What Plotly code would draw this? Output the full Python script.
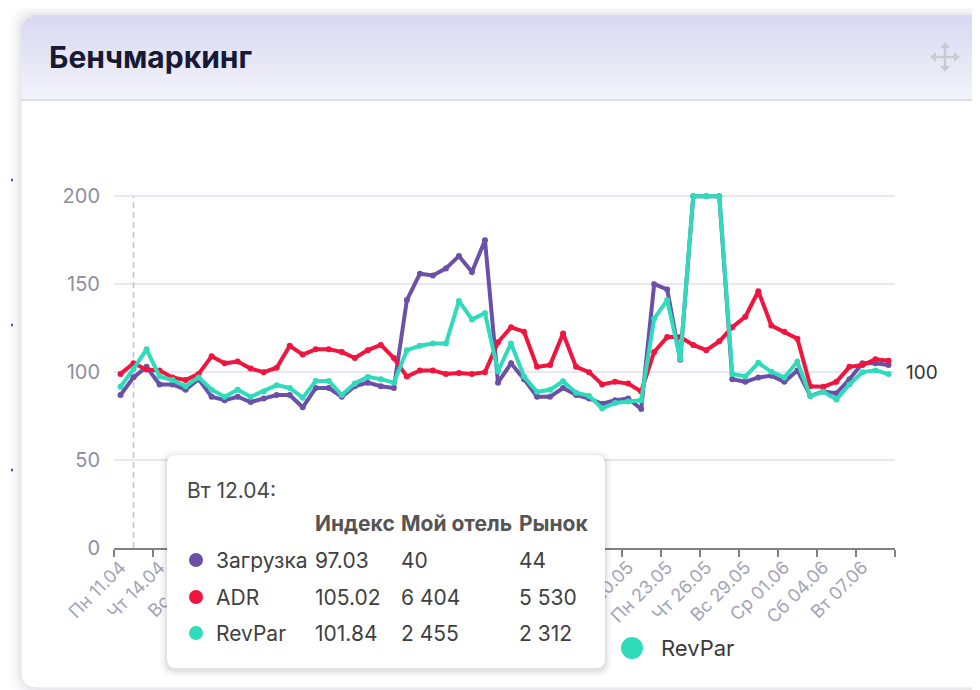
import math
import plotly.graph_objects as go

# ---------------- data ----------------
dates = ["Пн 11.04", "Вт 12.04", "Ср 13.04", "Чт 14.04", "Пт 15.04", "Сб 16.04", "Вс 17.04",
         "Пн 18.04", "Вт 19.04", "Ср 20.04", "Чт 21.04", "Пт 22.04", "Сб 23.04", "Вс 24.04",
         "Пн 25.04", "Вт 26.04", "Ср 27.04", "Чт 28.04", "Пт 29.04", "Сб 30.04", "Вс 01.05",
         "Пн 02.05", "Вт 03.05", "Ср 04.05", "Чт 05.05", "Пт 06.05", "Сб 07.05", "Вс 08.05",
         "Пн 09.05", "Вт 10.05", "Ср 11.05", "Чт 12.05", "Пт 13.05", "Сб 14.05", "Вс 15.05",
         "Пн 16.05", "Вт 17.05", "Ср 18.05", "Чт 19.05", "Пт 20.05", "Сб 21.05", "Вс 22.05",
         "Пн 23.05", "Вт 24.05", "Ср 25.05", "Чт 26.05", "Пт 27.05", "Сб 28.05", "Вс 29.05",
         "Пн 30.05", "Вт 31.05", "Ср 01.06", "Чт 02.06", "Пт 03.06", "Сб 04.06", "Вс 05.06",
         "Пн 06.06", "Вт 07.06", "Ср 08.06", "Чт 09.06"]

load_idx = [87, 97.03, 103, 93, 93, 90, 96, 86, 84, 86, 83, 85, 87, 87, 80, 91, 91, 86, 92, 94,
            92, 91, 141, 156, 155, 159, 166, 157, 175, 94, 105, 96, 86, 86, 91, 87, 85, 82, 84, 85,
            79, 150, 147, 107, 200, 200, 200, 96, 94.5, 97, 98, 94.5, 101, 86.5, 89, 88, 96, 105, 105, 104]

adr_idx = [99, 105.02, 101.5, 101, 97, 95.5, 99, 109, 105, 106, 102, 100, 102.5, 115, 110, 113, 113, 111.5, 108, 112.5,
           115.5, 108, 97.5, 101, 101, 99, 99.5, 99, 100, 117, 125.5, 123, 103, 104, 122, 103, 100, 93, 94.5, 93.5,
           89, 111.5, 120, 120, 115.5, 112.5, 117.5, 125.5, 131.5, 146, 126.5, 123, 119, 92, 91.7, 94.5, 103, 104, 107.3, 106.5]

revpar_idx = [91.7, 101.84, 113, 97.5, 95.5, 92, 97, 90, 86, 90, 86, 89, 92.6, 91, 85.5, 95, 95, 87, 93.6, 97.3,
              96, 94, 112.5, 115, 116.3, 116.3, 140.5, 130, 133.5, 100.5, 116.3, 97.5, 88.8, 90, 94.8, 88.3, 86.5, 79.4, 82.5, 83.3,
              84, 130.5, 141, 107.5, 200, 200, 200, 99, 97.5, 105.3, 100.2, 97, 105.9, 86.4, 88.8, 84.5, 93, 100, 101, 98.9]

series_names = ["Загрузка", "ADR", "RevPar"]
series_colors = ["#6a50a7", "#f0153e", "#2fdbba"]
y_ticks = [0, 50, 100, 150, 200]
baseline = 100

hover_idx = 1
tooltip_cols = ["Индекс", "Мой отель", "Рынок"]
my_hotel = ["40", "6 404", "2 455"]
market = ["44", "5 530", "2 312"]

# ---------------- geometry helpers (screen pixels -> paper) ----------------
OX, OY = 8, 8            # page body margin
FW, FH = 980 - OX, 690 - OY
L, R = 114, 895          # plot area in screen pixels
T, B = 191, 548


def px(x):
    return (x - L) / (R - L)


def py(y):
    return (B - y) / (B - T)


def rrect(x0, y0, x1, y1, r):
    return (f"M {px(x0 + r)},{py(y0)} L {px(x1 - r)},{py(y0)} Q {px(x1)},{py(y0)} {px(x1)},{py(y0 + r)} "
            f"L {px(x1)},{py(y1 - r)} Q {px(x1)},{py(y1)} {px(x1 - r)},{py(y1)} "
            f"L {px(x0 + r)},{py(y1)} Q {px(x0)},{py(y1)} {px(x0)},{py(y1 - r)} "
            f"L {px(x0)},{py(y0 + r)} Q {px(x0)},{py(y0)} {px(x0 + r)},{py(y0)} Z")


def hexmix(c1, c2, t):
    a = [int(c1[i:i + 2], 16) for i in (1, 3, 5)]
    b = [int(c2[i:i + 2], 16) for i in (1, 3, 5)]
    return "#" + "".join(f"{round(a[k] + (b[k] - a[k]) * t):02x}" for k in range(3))


FONT = "Inter, Roboto, 'Noto Sans', sans-serif"

fig = go.Figure()
for name, vals, col in zip(series_names, [load_idx, adr_idx, revpar_idx], series_colors):
    fig.add_trace(go.Scatter(x=dates, y=vals, name=name, mode="lines+markers",
                             line=dict(color=col, width=4), marker=dict(size=6, color=col),
                             showlegend=False, hoverinfo="skip"))

shapes = []
# dotted fragments of the widget behind, at far left
for yy in [180, 325, 470]:
    shapes.append(dict(type="line", xref="paper", yref="paper", x0=px(1), x1=px(15), y0=py(yy), y1=py(yy),
                       line=dict(color="#4f4aa6", width=2.5, dash="2px,8px"), layer="below"))
# card with soft shadow
CX0, CY0, CX1, CY1, CR = 21, 15, 1005, 688, 16
for k, a in [(12, 0.012), (9, 0.016), (6, 0.022), (3, 0.03)]:
    shapes.append(dict(type="path", xref="paper", yref="paper",
                       path=rrect(CX0 - k, CY0 - k, CX1 + k, CY1 + k, CR + k),
                       fillcolor=f"rgba(30,30,60,{a})", line=dict(width=0), layer="below"))
shapes.append(dict(type="path", xref="paper", yref="paper", path=rrect(CX0, CY0, CX1, CY1, CR),
                   fillcolor="#ffffff", line=dict(color="#e4e4ea", width=1), layer="below"))
# header gradient (rounded top-left corner approximated by insets)
top_c, bot_c = "#d8d9f2", "#f2f3f9"
n = 34
hh = (100 - CY0) / n
for i in range(n):
    y0 = CY0 + i * hh
    ym = i * hh + hh / 2
    inset = CR - math.sqrt(max(CR ** 2 - (CR - ym) ** 2, 0)) if ym < CR else 0
    shapes.append(dict(type="rect", xref="paper", yref="paper", x0=px(CX0 + inset), x1=px(CX1),
                       y0=py(y0 + hh + 0.4), y1=py(y0), fillcolor=hexmix(top_c, bot_c, i / (n - 1)),
                       line=dict(width=0), layer="below"))
shapes.append(dict(type="line", xref="paper", yref="paper", x0=px(CX0), x1=px(CX1), y0=py(100), y1=py(100),
                   line=dict(color="#d6d6de", width=1.5), layer="below"))
# move icon
ic = "#c9cad3"
cx, cy = 945, 57
shapes.append(dict(type="line", xref="paper", yref="paper", x0=px(cx), x1=px(cx), y0=py(cy - 12), y1=py(cy + 12),
                   line=dict(color=ic, width=2.5), layer="below"))
shapes.append(dict(type="line", xref="paper", yref="paper", x0=px(cx - 12), x1=px(cx + 12), y0=py(cy), y1=py(cy),
                   line=dict(color=ic, width=2.5), layer="below"))
for (ax, ay, dx, dy) in [(0, -1, 1, 0), (0, 1, 1, 0), (-1, 0, 0, 1), (1, 0, 0, 1)]:
    tipx, tipy = cx + ax * 15, cy + ay * 15
    bx, by = cx + ax * 9, cy + ay * 9
    path = (f"M {px(tipx)},{py(tipy)} L {px(bx + dx * 5)},{py(by + dy * 5)} "
            f"L {px(bx - dx * 5)},{py(by - dy * 5)} Z")
    shapes.append(dict(type="path", xref="paper", yref="paper", path=path, fillcolor=ic,
                       line=dict(width=0), layer="below"))
# baseline 100 and hover line
shapes.append(dict(type="line", xref="paper", yref="y", x0=0, x1=1, y0=baseline, y1=baseline,
                   line=dict(color="#2f2f33", width=1.6, dash="6px,4px"), layer="between"))
shapes.append(dict(type="line", xref="x", yref="y", x0=dates[hover_idx], x1=dates[hover_idx], y0=0, y1=y_ticks[-1],
                   line=dict(color="#c4c5d3", width=1.6, dash="6px,4px"), layer="between"))
# tooltip box
tx0, ty0, tx1, ty1 = 167, 455, 605, 668
for k, a in [(7, 0.018), (5, 0.025), (3, 0.035), (1.5, 0.05)]:
    shapes.append(dict(type="path", xref="paper", yref="paper", path=rrect(tx0 - k, ty0 - k + 2, tx1 + k, ty1 + k + 2, 9 + k),
                       fillcolor=f"rgba(20,20,40,{a})", line=dict(width=0), layer="above"))
shapes.append(dict(type="path", xref="paper", yref="paper", path=rrect(tx0, ty0, tx1, ty1, 9),
                   fillcolor="#ffffff", line=dict(width=0), layer="above"))
row_y = [560, 597, 633]
for yy, col in zip(row_y, series_colors):
    shapes.append(dict(type="circle", xref="paper", yref="paper", x0=px(189), x1=px(203), y0=py(yy + 7), y1=py(yy - 7),
                       fillcolor=col, line=dict(width=0), layer="above"))
# legend dot (other legend entries are hidden by the tooltip)
shapes.append(dict(type="circle", xref="paper", yref="paper", x0=px(621), x1=px(643), y0=py(659), y1=py(637),
                   fillcolor=series_colors[2], line=dict(width=0), layer="above"))

ann = []
ann.append(dict(text="<b>Бенчмаркинг</b>", x=px(47), y=py(57), xref="paper", yref="paper", xanchor="left",
                yanchor="middle", showarrow=False, font=dict(size=30, color="#181935", family=FONT)))
ann.append(dict(text=str(baseline), x=px(904), y=baseline, xref="paper", yref="y", xanchor="left", yanchor="middle",
                showarrow=False, font=dict(size=19, color="#333333", family=FONT)))
ann.append(dict(text=dates[hover_idx] + ":", x=px(185), y=py(490), xref="paper", yref="paper", xanchor="left",
                yanchor="middle", showarrow=False, font=dict(size=21, color="#484848", family=FONT)))
col_x = [313, 399, 517]
for cxp, t in zip(col_x, tooltip_cols):
    ann.append(dict(text=f"<b>{t}</b>", x=px(cxp), y=py(523), xref="paper", yref="paper", xanchor="left",
                    yanchor="middle", showarrow=False, font=dict(size=21, color="#555555", family=FONT)))
idx_vals = [load_idx[hover_idx], adr_idx[hover_idx], revpar_idx[hover_idx]]
for k, yy in enumerate(row_y):
    cells = [series_names[k], f"{idx_vals[k]:.2f}", my_hotel[k], market[k]]
    for xx, t in zip([214] + col_x, cells):
        ann.append(dict(text=t, x=px(xx), y=py(yy), xref="paper", yref="paper", xanchor="left",
                        yanchor="middle", showarrow=False, font=dict(size=21, color="#3f3f3f", family=FONT)))
ann.append(dict(text=series_names[2], x=px(659), y=py(648), xref="paper", yref="paper", xanchor="left",
                yanchor="middle", showarrow=False, font=dict(size=22, color="#3a3a3a", family=FONT)))

fig.update_layout(
    width=FW, height=FH, autosize=False,
    margin=dict(l=L - OX, r=(FW + OX) - R, t=T - OY, b=(FH + OY) - B, pad=0),
    paper_bgcolor="#ffffff", plot_bgcolor="rgba(0,0,0,0)",
    font=dict(family=FONT),
    shapes=shapes, annotations=ann, showlegend=False, hovermode=False,
    xaxis=dict(type="category", range=[-0.5, len(dates) - 0.5], showgrid=False, zeroline=False,
               showline=True, linecolor="#80808a", linewidth=1.5,
               ticks="outside", ticklen=7, tickwidth=1.5, tickcolor="#80808a",
               tickson="boundaries", dtick=3, tick0=0, tickangle=-45,
               tickfont=dict(size=18, color="#a4a4b8", family=FONT)),
    yaxis=dict(range=[0, 203], tickvals=y_ticks, showgrid=True, gridcolor="#e6e7f3", gridwidth=1.5,
               zeroline=False, showline=False, ticks="", ticklabelstandoff=13,
               tickfont=dict(size=20, color="#8e8ea3", family=FONT)),
)

fig.write_html("out.html")
